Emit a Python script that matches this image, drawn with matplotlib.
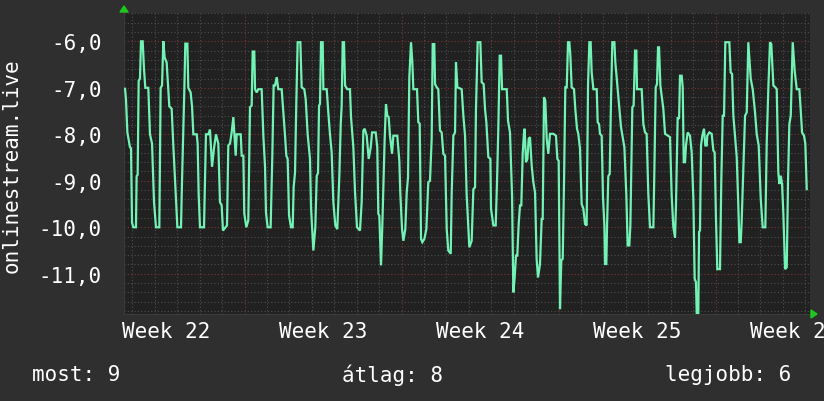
import matplotlib
matplotlib.use("Agg")
import matplotlib.pyplot as plt
import numpy as np

# ---- data (time in hours from left edge of graph, value) ----
hours = [1.1, 2.1, 3.6, 6.4, 7.5, 8.6, 10, 12.8, 13.5, 14.6, 15.7, 17.1, 18.2, 20, 21.4, 22.8, 26, 27.8, 30, 32.1,
         34.2, 37.8, 39.2, 40.7, 42.1, 43.5, 45.6, 48.5, 51, 52.8, 55.3, 57.1, 61, 62, 63.5, 64.6, 65.6, 67.8, 68.8,
         71.3, 72.8, 74.2, 77.8, 78.8, 79.9, 81.3, 85.6, 87.7, 90.2, 92, 94.2, 96.3, 98.4,
         100.9, 102.7, 104.5, 105.9, 110.2, 111.6, 113.4, 115.2, 117, 118, 119.5, 120.6, 124.9, 125.9, 127.7, 128.7,
         130.9, 133, 134.8, 136.6, 137.7, 139.4, 140.2, 142, 143.7, 147.3, 149.1, 150.9, 151.9, 153.7, 156.9, 158.7,
         160.1, 161.6, 163.4, 165.1, 168.7, 170.5, 172.3, 173.7, 175.1, 176.6, 178.7, 180.5, 181.5, 183, 184.4,
         185.8, 188.7, 190.1, 192.9, 194.4, 196.5, 199,
         200.1, 202.6, 204.7, 206.2, 207.6, 208.7, 209.7, 210.8, 212.6, 213.3, 216.9, 218.6, 220.4, 222.2, 224,
         226.1, 228.2, 230.4, 231.9, 232.9, 234, 235.4, 236.5, 238.9, 241.8, 242.9, 245.4, 247.2, 249.3, 252.5,
         254.3, 256.1, 257.5, 259.7, 261.8, 264, 265.4, 269.3, 271, 272.1, 273.2, 275, 276.4, 278.9, 280.3, 281.7,
         283.2, 284.6, 286.8, 288.2, 292.4, 294.6, 295.6, 297.5, 298.9, 301, 302.5, 303.9, 305.3,
         307.1, 308.5, 309.6, 313.5, 314.9, 316.4, 317.8, 319.2, 321.4, 323.5, 325.6, 327.4, 329.2, 330.3, 332,
         332.8, 334.6, 336.3, 338.1, 339.9, 341.7, 343.5, 345.3, 347, 349.6, 350.6, 352.4, 354.2, 355.2, 356.7,
         361.3, 363.1, 364.9, 366.6, 368.4, 369.5, 372, 373.8, 375.6, 376.6, 378.4, 381.3, 382.7, 384.8, 386.3,
         387.7, 389.8, 392, 392.7, 395.2, 397.7, 399.1, 400.5, 402, 403.4, 404.5,
         409.5, 410.9, 413, 415.2, 416.6, 418, 419.4, 420.8, 422.3, 423.7, 425.1, 426.6, 428, 428.7, 430.1, 431.6,
         433, 434.4, 436.2, 438, 439.8, 441.5, 443, 445.1, 446.9, 448, 449.4, 450.8, 452.3, 454, 455.8, 459.4,
         462.2, 463.7, 465.1, 466.5, 467.9, 469.4, 470.8, 472.2, 473.7, 475.1, 476.5, 477.6, 479, 481.5, 482.9,
         484.7, 486.1, 487.9, 489.7, 491.5, 493.3, 495, 496.5, 497.9, 499.3, 500.4, 502.2, 505.8,
         506.8, 508.3, 509.3, 511.1, 512.5, 514, 514.7, 516.1, 516.8, 518.2, 519.7, 521.1, 522.5, 524.7, 525.7,
         528.2, 530, 531.8, 535.4, 537.5, 538.9, 540.7, 541.8, 543.9, 545.3, 546.8, 548.2, 548.9, 553.9, 555.7,
         557.5, 559.2, 561, 562.8, 566.4, 567.5, 568.9, 570.3, 571.4, 572.5, 573.9, 575.3, 577.1, 578.9, 584.2,
         586, 587.8, 589.6, 590.6, 592.4, 593.9, 594.9, 596.7, 597.8, 598.9, 600.3, 601.3, 603.1, 605.6,
         607.4, 609.2, 610.6, 612, 612.8, 614.5, 615.3, 616.3, 617.4, 618.8, 620.6, 622, 623.5, 624.1, 626.3,
         628.8, 630.6, 632, 633.4, 634.8, 637.7, 639.1, 640.6, 642, 643.4, 647.7, 649.1, 650.6, 652, 655.6, 657.3,
         658.4, 659.9, 660.9, 662.7, 664.5, 666.3, 668, 670.6, 672.7, 675.2, 677, 679.1, 681.3, 683.4, 686.2,
         687.7, 689.4, 691.2, 692.6, 694.8, 696.9, 698.4, 700.1, 701.2, 702.7, 704.1, 705.5, 707.3, 709.1, 710.5,
         711.9, 713.4, 715.5, 717.6, 719.8, 722.6, 724, 725.5, 727.6, 729, 730.5]
values = [-7.02, -7.24, -7.96, -8.28, -8.3, -9.9, -10.0, -10.0, -8.9, -8.87, -6.85, -6.8, -6.0, -6.0, -6.6, -7.0, -7.0,
          -8.0, -8.2, -9.45, -10.0, -10.0, -7.0, -6.95, -6.0, -6.35, -6.45, -7.4, -7.45, -8.25, -9.25, -10.0, -10.0,
          -9.07, -7.9, -7.0, -6.05, -6.05, -7.0, -7.1, -7.4, -8.0, -8.0, -8.2, -9.3, -10.0, -10.0, -8.0, -8.0, -7.9,
          -8.7, -8.3, -8.0,
          -8.2, -9.46, -9.53, -10.07, -9.96, -8.24, -8.2, -7.96, -7.63, -7.96, -8.46, -8.0, -8.0, -8.46, -8.46,
          -9.7, -10.0, -9.85, -7.42, -7.38, -6.22, -6.22, -7.03, -7.1, -7.03, -7.03, -8.03, -8.7, -9.68, -10.0,
          -10.0, -8.46, -6.95, -6.95, -6.77, -7.03, -7.03, -7.53, -8.03, -8.46, -8.53, -9.75, -10.0, -10.0, -9.14,
          -8.82, -7.28, -6.02, -6.02, -6.99, -7.03, -7.24, -8.0, -8.53,
          -9.57, -10.5, -10.0, -8.9, -8.83, -7.38, -7.35, -6.02, -6.02, -7.03, -7.03, -7.53, -8.0, -8.39, -9.46,
          -9.96, -10.04, -8.9, -7.78, -7.38, -6.02, -6.02, -6.95, -7.03, -7.03, -7.63, -8.28, -9.25, -10.0, -10.07,
          -9.46, -7.92, -7.88, -8.03, -8.53, -8.28, -7.96, -7.96, -8.28, -9.71, -9.75, -10.82, -9.96, -8.1, -7.35,
          -7.6, -7.63, -8.03, -8.42, -8.03, -8.03, -8.57, -9.25, -10.04, -10.29, -10.04, -9.25, -8.92, -6.77,
          -6.02, -6.45, -7.03, -7.03, -7.74, -7.77, -10.25, -10.32, -10.25, -10.04, -9.03, -9.0, -8.1, -6.06, -6.06,
          -6.92, -6.99, -7.03, -7.92, -7.96, -8.42, -8.46, -10.04, -10.5, -10.57, -9.28, -8.03, -7.96, -6.45, -6.99,
          -7.03, -7.6, -8.03, -9.28, -10.0, -10.43, -10.29, -9.18, -9.14, -7.46, -6.02, -6.02, -6.88, -6.92, -7.46,
          -7.74, -8.49, -8.53, -9.6, -9.96, -9.96, -9.03, -7.88, -6.31, -6.31, -7.03,
          -7.03, -7.71, -7.96, -9.32, -11.4, -11.08, -10.61, -10.61, -9.93, -9.53, -9.53, -8.42, -7.96, -7.88,
          -8.6, -8.53, -8.1, -8.06, -8.67, -9.03, -9.25, -10.68, -11.08, -10.79, -9.82, -9.82, -7.2, -7.28, -8.1,
          -8.42, -7.99, -7.99, -8.03, -8.53, -8.57, -11.76, -10.71, -10.68, -9.03, -6.99, -6.99, -6.02, -6.02,
          -6.31, -6.99, -7.03, -7.46, -7.88, -7.99, -8.31, -9.5, -9.6, -9.93, -9.96, -6.95, -6.02, -6.02, -6.67,
          -7.03, -7.03,
          -7.74, -7.78, -7.99, -8.03, -9.35, -9.96, -10.79, -10.79, -10.0, -8.9, -8.85, -7.24, -6.02, -6.02, -6.45,
          -7.03, -7.46, -7.85, -8.28, -9.32, -10.39, -10.39, -9.96, -7.42, -7.38, -6.2, -6.2, -7.03, -7.03, -7.78,
          -7.96, -7.99, -9.28, -10.0, -10.0, -8.75, -6.99, -6.92, -6.13, -6.13, -6.95, -7.17, -7.46, -7.99, -8.06,
          -9.32, -10.0, -10.22, -9.53, -7.63, -7.67, -6.74, -6.74, -6.99, -8.6, -8.6, -8.24, -7.96, -8.03,
          -8.39, -9.39, -11.11, -11.18, -11.86, -11.86, -10.1, -10.07, -8.24, -8.03, -7.88, -8.24, -8.24, -8.03,
          -7.96, -7.99, -8.35, -8.39, -9.82, -10.9, -10.9, -8.99, -7.6, -7.6, -6.02, -6.02, -6.67, -6.7, -7.6,
          -8.49, -9.53, -10.32, -10.32, -9.86, -8.75, -7.6, -7.53, -6.02, -6.81, -7.03, -7.53, -8.0, -8.24, -9.39,
          -10.0, -10.0, -8.17, -7.03, -6.02, -6.06, -6.95, -6.99, -7.03, -8.82, -9.07, -8.89, -9.07, -9.71, -10.9,
          -10.86, -8.99, -7.78, -7.6, -6.02, -6.63, -7.03, -7.03, -7.46, -7.96, -8.03, -8.2, -9.18]

week_labels = ["Week 22", "Week 23", "Week 24", "Week 25", "Week 26"]
y_tick_values = [-11.0, -10.0, -9.0, -8.0, -7.0, -6.0]
ylabel = "onlinestream.live"
legend_items = ["most: 9", "átlag: 8", "legjobb: 6"]

# ---- layout ----
W, H = 824, 402
FIG_BG = "#2f2f2f"
CANVAS = "#212121"
LINE = "#72f2b4"
MINOR = "#4e4e4e"
MAJOR = "#7c3434"
TEXT = "#ffffff"
MONO = "DejaVu Sans Mono"

t_start, t_end = 0.0, 734.0
y_lo, y_hi = -11.865, -5.391
first_day_line = 8.9
first_week_line = 129.5
first_label = 45.5

fig = plt.figure(figsize=(W / 100, H / 100), dpi=100, facecolor=FIG_BG)
L, R, T, B = 124, 810, 14, 315
ax = fig.add_axes([L / W, (H - B) / H, (R - L) / W, (B - T) / H])
ax.set_facecolor(CANVAS)
ax.set_xlim(t_start, t_end)
ax.set_ylim(y_lo, y_hi)

# grid
day_lines = np.arange(first_day_line, t_end, 24.0)
week_lines = np.arange(first_week_line, t_end, 168.0)
day_lines = [d for d in day_lines if min(abs(d - w) for w in week_lines) > 1]
ax.vlines(day_lines, y_lo, y_hi, colors=MINOR, linestyles=(0, (1, 2)), linewidth=0.8, zorder=1)
ax.vlines(week_lines, y_lo, y_hi, colors=MAJOR, linestyles=(0, (1, 2)), linewidth=0.8, zorder=1)
minor_y = np.arange(-11.8, -5.39, 0.2)
minor_y = [m for m in minor_y if abs(m - round(m)) > 0.05]
ax.hlines(minor_y, t_start, t_end, colors=MINOR, linestyles=(0, (1, 2)), linewidth=0.8, zorder=1)
ax.hlines(y_tick_values, t_start, t_end, colors=MAJOR, linestyles=(0, (1, 2)), linewidth=0.8, zorder=1)

ax.plot(hours, values, color=LINE, linewidth=1.6, zorder=3, solid_joinstyle="miter")

# axes/ticks
for s in ["top", "right"]:
    ax.spines[s].set_visible(False)
ax.spines["left"].set_color("#3a3a3a")
ax.spines["bottom"].set_color("#3a3a3a")
ax.set_yticks(y_tick_values)
ax.set_yticklabels([f"{v:.1f}".replace(".", ",") for v in y_tick_values],
                   fontfamily=MONO, fontsize=15, color=TEXT)
label_pos = [first_label + 168.0 * i for i in range(len(week_labels))]
ax.set_xticks(label_pos)
ax.set_xticklabels(week_labels, fontfamily=MONO, fontsize=15, color=TEXT)
ax.tick_params(axis="y", length=0, pad=16)
ax.tick_params(axis="x", length=0, pad=5)

fig.text(12 / W, 1 - 166 / H, ylabel, rotation=90, ha="center", va="center",
         fontfamily=MONO, fontsize=15, color=TEXT)

# arrows
fig.patches.append(matplotlib.patches.Polygon(
    [[(L - 4) / W, 1 - 13 / H], [(L + 4) / W, 1 - 13 / H], [L / W, 1 - 7 / H]],
    closed=True, transform=fig.transFigure, color="#1ec81e", figure=fig))
fig.patches.append(matplotlib.patches.Polygon(
    [[(R + 1) / W, 1 - (B - 4) / H], [(R + 1) / W, 1 - (B + 4) / H], [(R + 7) / W, 1 - B / H]],
    closed=True, transform=fig.transFigure, color="#1ec81e", figure=fig))

# legend line
ly = 1 - 375 / H
fig.text(32 / W, ly, legend_items[0], ha="left", va="center", fontfamily=MONO, fontsize=15, color=TEXT)
fig.text(392 / W, ly, legend_items[1], ha="center", va="center", fontfamily=MONO, fontsize=15, color=TEXT)
fig.text(791 / W, ly, legend_items[2], ha="right", va="center", fontfamily=MONO, fontsize=15, color=TEXT)

fig.savefig("out.png", dpi=100, facecolor=FIG_BG)
